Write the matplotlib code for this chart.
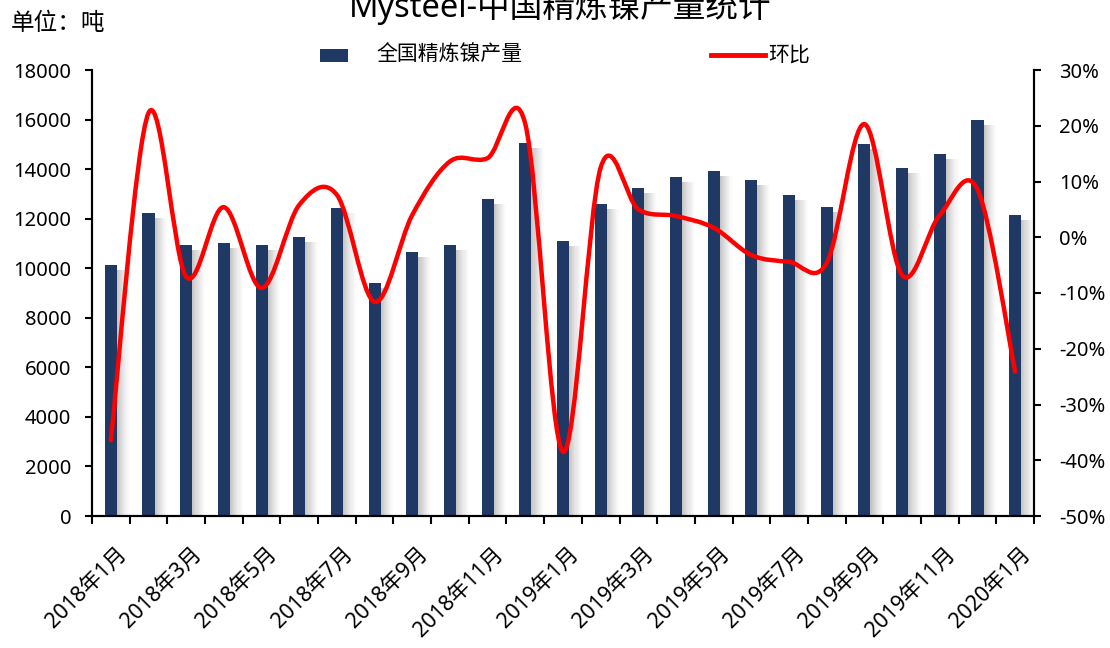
import numpy as np
import matplotlib.pyplot as plt
import matplotlib.transforms as mtransforms
from matplotlib.path import Path
from matplotlib.patches import PathPatch, Rectangle
from matplotlib.lines import Line2D

plt.rcParams['font.family'] = ['Noto Sans', 'Noto Sans CJK SC', 'DejaVu Sans']

# 数据
months = ['2018年%d月' % m for m in range(1, 13)] + ['2019年%d月' % m for m in range(1, 13)] + ['2020年1月']
output = [10130, 12230, 10940, 11000, 10940, 11260, 12430, 9400, 10650, 10940, 12790, 15050,
          11100, 12590, 13240, 13680, 13920, 13560, 12950, 12470, 15010, 14040, 14610, 15980, 12150]
mom = [-36.4, 22.3, -7.1, 5.4, -9.1, 5.8, 7.6, -11.6, 4.0, 13.6, 14.2, 20.3,
       -38.5, 12.5, 5.0, 3.8, 1.7, -3.2, -4.4, -4.6, 20.3, -6.8, 4.0, 8.6, -24.1]

bar_color = '#1f3864'
line_color = '#ff0000'

fig = plt.figure(figsize=(11.1, 6.48), dpi=100)
ax = fig.add_axes([92 / 1110, 1 - 516 / 648, (1034 - 92) / 1110, (516 - 70) / 648])
ax2 = ax.twinx()

x = np.arange(len(months))
w = 0.32

# 柱子阴影（模拟Excel外阴影）
n_sh = 12
step = 0.34 / n_sh
for k in range(n_sh):
    a = 0.45 * (1 - k / n_sh) ** 1.3
    ax.bar(x + w / 2 + k * step + step / 2, np.array(output) - 200, width=step,
           color='#7f7f7f', alpha=a, linewidth=0, zorder=1)
ax.bar(x, output, width=w, color=bar_color, zorder=2)

ax.set_xlim(-0.5, len(months) - 0.5)
ax.set_ylim(0, 18000)
ax.set_yticks(np.arange(0, 18001, 2000))
ax2.set_ylim(-50, 30)
ax2.set_yticks(np.arange(-50, 31, 10))
ax2.set_yticklabels(['%d%%' % v for v in range(-50, 31, 10)])

# 平滑折线 (Catmull-Rom -> Bezier)
px = x.astype(float)
py = np.array(mom, dtype=float)
verts = [(px[0], py[0])]
codes = [Path.MOVETO]
n = len(px)
for i in range(n - 1):
    p0 = np.array([px[max(i - 1, 0)], py[max(i - 1, 0)]])
    p1 = np.array([px[i], py[i]])
    p2 = np.array([px[i + 1], py[i + 1]])
    p3 = np.array([px[min(i + 2, n - 1)], py[min(i + 2, n - 1)]])
    c1 = p1 + (p2 - p0) / 6
    c2 = p2 - (p3 - p1) / 6
    verts += [tuple(c1), tuple(c2), tuple(p2)]
    codes += [Path.CURVE4] * 3
ax2.add_patch(PathPatch(Path(verts, codes), facecolor='none', edgecolor=line_color,
                        linewidth=3.2, capstyle='round', joinstyle='round', zorder=5))

# 坐标轴样式
for a_ in (ax, ax2):
    a_.spines['top'].set_visible(False)
    for s in ('left', 'right', 'bottom'):
        a_.spines[s].set_linewidth(1.5)
        a_.spines[s].set_color('black')

ax.tick_params(axis='y', direction='out', length=5, width=1.5, labelsize=14.5, pad=10)
ax2.tick_params(axis='y', direction='out', length=5, width=1.5, labelsize=14.5, pad=13)

ax.set_xticks(x[::2])
ax.set_xticklabels(months[::2])
ax.set_xticks(np.arange(-0.5, len(months), 1), minor=True)
ax.tick_params(axis='x', which='major', length=0, labelsize=15.5, pad=20)
ax.tick_params(axis='x', which='minor', direction='out', length=6, width=1.5)
offset = mtransforms.ScaledTranslation(5 / 100, 0, fig.dpi_scale_trans)
for lab in ax.get_xticklabels():
    lab.set_rotation(45)
    lab.set_ha('right')
    lab.set_va('top')
    lab.set_rotation_mode('anchor')
    lab.set_transform(lab.get_transform() + offset)

# 标题与单位
fig.text(560 / 1110, 1 - 17 / 648, 'Mysteel-中国精炼镍产量统计', ha='center', va='baseline', fontsize=23.5)
fig.text(11 / 1110, 1 - 24 / 648, '单位：吨', ha='left', va='center', fontsize=17)

# 图例
fig.patches.append(Rectangle((320 / 1110, 1 - 62 / 648), 28 / 1110, 13 / 648,
                             transform=fig.transFigure, facecolor=bar_color, edgecolor='none'))
fig.text(376 / 1110, 1 - 55 / 648, '全国精炼镍产量', ha='left', va='center', fontsize=15)
fig.lines.append(Line2D([711 / 1110, 765 / 1110], [1 - 55 / 648, 1 - 55 / 648],
                        transform=fig.transFigure, color=line_color, linewidth=3.5))
fig.text(768 / 1110, 1 - 55 / 648, '环比', ha='left', va='center', fontsize=15)

fig.savefig('out.png', dpi=100)
